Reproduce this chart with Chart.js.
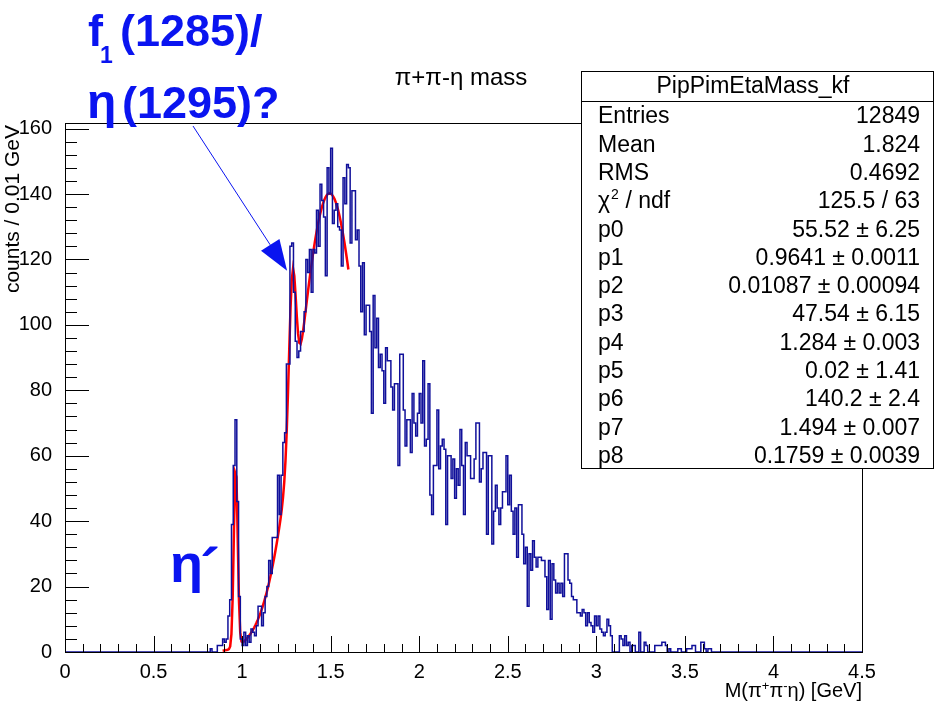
<!DOCTYPE html>
<html>
<head>
<meta charset="utf-8">
<title>pi+ pi- eta mass</title>
<script src="https://cdn.jsdelivr.net/npm/chart.js@4"></script>
<style>
  html, body { margin: 0; padding: 0; background: #fff; }
  #wrap { width: 935px; height: 701px; }
</style>
</head>
<body>
<div id="wrap"><canvas id="massChart" width="935" height="701"></canvas></div>
<script>
// -------------------------------
// Histogram data (0.01 GeV bins) -
// -------------------------------
const binWidth = 0.01;
const nBins = 450;
const firstBin = 80; // counts[0] is the 0.80-0.81 GeV bin
const counts = [
  0, 0, 1, 0, 0, 0, 2, 2, 2, 4,
  3, 4, 11, 16, 39, 57, 71, 46, 17, 4,
  2, 6, 2, 5, 3, 7, 6, 5, 8, 14,
  14, 8, 12, 17, 20, 28, 24, 35, 35, 35,
  54, 42, 54, 64, 67, 88, 88, 124, 125, 110,
  95, 90, 92, 98, 98, 104, 120, 116, 123, 110,
  123, 122, 135, 124, 143, 138, 133, 115, 148, 140,
  154, 131, 135, 137, 130, 129, 118, 145, 137, 149,
  148, 125, 141, 141, 126, 129, 118, 104, 119, 97,
  106, 106, 98, 73, 109, 93, 102, 87, 91, 86,
  76, 93, 89, 89, 81, 74, 82, 82, 57, 91,
  91, 74, 63, 71, 71, 61, 79, 70, 66, 73,
  79, 70, 89, 63, 65, 82, 48, 42, 57, 57,
  74, 56, 63, 65, 62, 39, 60, 60, 53, 59,
  47, 56, 51, 68, 57, 42, 64, 60, 60, 53,
  53, 59, 70, 70, 52, 56, 61, 61, 36, 60,
  60, 33, 43, 51, 44, 39, 44, 49, 49, 60,
  45, 54, 43, 36, 44, 29, 45, 45, 36, 27,
  32, 14, 30, 25, 34, 29, 26, 29, 29, 28,
  28, 23, 13, 28, 10, 27, 22, 18, 21, 18,
  21, 17, 30, 30, 22, 21, 17, 16, 16, 12,
  12, 11, 13, 12, 8, 12, 9, 8, 6, 11,
  8, 11, 7, 6, 5, 6, 10, 8, 5, 0,
  0, 0, 0, 5, 4, 2, 5, 2, 3, 0,
  2, 2, 0, 0, 6, 0, 0, 3, 2, 0,
  0, 0, 0, 2, 2, 2, 2, 3, 3, 2,
  0, 1, 0, 0, 0, 0, 1, 1, 0, 0,
  0, 1, 1, 1, 2, 2, 0, 0, 0, 3,
  3, 1, 0, 1, 1, 0
];

// fit: three gaussians, p0..p8 as printed in the stats box
const fitParams = [55.52, 0.9641, 0.01087, 47.54, 1.284, 0.02, 140.2, 1.494, 0.1759];
const fitRange = [0.89, 1.60];
const fitNpx = 100;

// axes
const xMin = 0, xMax = 4.5, xStep = 0.5, xMinorPerMajor = 5;
const yMin = 0, yMax = 161.7, yStep = 20, yMinorPerMajor = 5;

// stats box
const statTitle = "PipPimEtaMass_kf";
const statLabels = ["Entries", "Mean", "RMS", "chi2", "p0", "p1", "p2", "p3", "p4", "p5", "p6", "p7", "p8"];
const statValues = ["12849", "1.824", "0.4692", "125.5 / 63",
  "55.52 \u00b1 6.25", "0.9641 \u00b1 0.0011", "0.01087 \u00b1 0.00094",
  "47.54 \u00b1 6.15", "1.284 \u00b1 0.003", "0.02 \u00b1 1.41",
  "140.2 \u00b1 2.4", "1.494 \u00b1 0.007", "0.1759 \u00b1 0.0039"];

const FONT = "'Liberation Sans', Arial, Helvetica, sans-serif";
const HIST_COLOR = "#10109a";
const NOTE_COLOR = "#0a14f0";

// -------------------------------
// Build datasets ----------------
// -------------------------------
const histPoints = [];
for (let k = 0; k < nBins; k++) {
  const i = k - firstBin;
  const c = i >= 0 && i < counts.length ? counts[i] : 0;
  histPoints.push({ x: k * binWidth, y: c });
}
histPoints.push({ x: nBins * binWidth, y: 0 });

function gaus(m, a, mu, s) {
  const t = (m - mu) / s;
  return a * Math.exp(-0.5 * t * t);
}
function fitFunc(m) {
  const p = fitParams;
  return gaus(m, p[0], p[1], p[2]) + gaus(m, p[3], p[4], p[5]) + gaus(m, p[6], p[7], p[8]);
}
const fitPoints = [];
for (let i = 0; i <= fitNpx; i++) {
  const m = fitRange[0] + (fitRange[1] - fitRange[0]) * i / fitNpx;
  fitPoints.push({ x: m, y: fitFunc(m) });
}

// -------------------------------
// Drawing helpers ---------------
// -------------------------------
function drawText(ctx, str, x, y, size, opts = {}) {
  ctx.save();
  ctx.font = (opts.bold ? "bold " : "") + size + "px " + FONT;
  ctx.fillStyle = opts.color || "#000";
  ctx.textAlign = opts.align || "left";
  ctx.textBaseline = opts.baseline || "alphabetic";
  ctx.fillText(str, x, y);
  const w = ctx.measureText(str).width;
  ctx.restore();
  return w;
}
function textWidth(ctx, str, size, bold) {
  ctx.save();
  ctx.font = (bold ? "bold " : "") + size + "px " + FONT;
  const w = ctx.measureText(str).width;
  ctx.restore();
  return w;
}

const framePlugin = {
  id: "rootFrame",
  afterDatasetsDraw(chart) {
    const ctx = chart.ctx;
    const xs = chart.scales.x, ys = chart.scales.y;
    const { left, right, top, bottom } = chart.chartArea;
    ctx.save();
    ctx.strokeStyle = "#000";
    ctx.lineWidth = 1;
    ctx.strokeRect(Math.round(left) + 0.5, Math.round(top) + 0.5,
      Math.round(right - left), Math.round(bottom - top));

    // x ticks, pointing into the frame
    ctx.beginPath();
    const xMinor = xStep / xMinorPerMajor;
    for (let i = 0; i * xMinor <= xMax + 1e-9; i++) {
      const px = Math.round(xs.getPixelForValue(i * xMinor)) + 0.5;
      const len = i % xMinorPerMajor === 0 ? 16 : 8;
      ctx.moveTo(px, bottom);
      ctx.lineTo(px, bottom - len);
    }
    // y ticks
    const yMinor = yStep / yMinorPerMajor;
    for (let i = 0; i * yMinor <= yMax; i++) {
      const py = Math.round(ys.getPixelForValue(i * yMinor)) + 0.5;
      const len = i % yMinorPerMajor === 0 ? 24 : 12;
      ctx.moveTo(left, py);
      ctx.lineTo(left + len, py);
    }
    ctx.stroke();
    ctx.restore();
  },
  afterDraw(chart) {
    const ctx = chart.ctx;
    const xs = chart.scales.x, ys = chart.scales.y;
    const { right } = chart.chartArea;

    // title
    drawText(ctx, "\u03c0+\u03c0-\u03b7 mass", 461, 85, 24, { align: "center" });

    // y axis title, right-aligned at the top
    ctx.save();
    ctx.translate(19, 125);
    ctx.rotate(-Math.PI / 2);
    drawText(ctx, "counts / 0.01 GeV", 0, 0, 21, { align: "right" });
    ctx.restore();

    // x axis title with superscripts
    const tSize = 20, sSize = 13;
    const parts = [["M(\u03c0", false], ["+", true], ["\u03c0", false], ["-", true], ["\u03b7) [GeV]", false]];
    let total = 0;
    parts.forEach(([s, sup]) => { total += textWidth(ctx, s, sup ? sSize : tSize); });
    let tx = right - total;
    parts.forEach(([s, sup]) => {
      tx += drawText(ctx, s, tx, sup ? 690 : 697, sup ? sSize : tSize);
    });

    // stats box
    const bx = 581, by = 71, bw = 352, bh = 397;
    ctx.save();
    ctx.fillStyle = "#fff";
    ctx.fillRect(bx, by, bw, bh);
    ctx.strokeStyle = "#000";
    ctx.lineWidth = 1;
    ctx.strokeRect(bx + 0.5, by + 0.5, bw, bh);
    ctx.beginPath();
    ctx.moveTo(bx, by + 30.5);
    ctx.lineTo(bx + bw, by + 30.5);
    ctx.stroke();
    ctx.restore();
    drawText(ctx, statTitle, bx + bw / 2 - 4, by + 16, 23, { align: "center", baseline: "middle" });
    const rowH = 28.3;
    statLabels.forEach((lab, i) => {
      const y = 117 + i * rowH;
      if (lab === "chi2") {
        const w = drawText(ctx, "\u03c7", 598, y, 23, { baseline: "middle" });
        drawText(ctx, "2", 598 + w + 1, y - 7, 14, { baseline: "middle" });
        drawText(ctx, " / ndf", 598 + w + 9, y, 23, { baseline: "middle" });
      } else {
        drawText(ctx, lab, 598, y, 23, { baseline: "middle" });
      }
      drawText(ctx, statValues[i], 920, y, 23, { align: "right", baseline: "middle" });
    });

    // annotations
    const big = 45;
    let ax = 88;
    ax += drawText(ctx, "f", ax, 46, big, { bold: true, color: NOTE_COLOR });
    drawText(ctx, "1", ax - 3, 63, 23, { bold: true, color: NOTE_COLOR });
    drawText(ctx, "(1285)/", 120, 46, big, { bold: true, color: NOTE_COLOR });
    drawText(ctx, "\u03b7", 87, 118, big + 3, { bold: true, color: NOTE_COLOR });
    drawText(ctx, "(1295)?", 122, 118, big, { bold: true, color: NOTE_COLOR });
    drawText(ctx, "\u03b7", 170, 582, 54, { bold: true, color: NOTE_COLOR });
    drawText(ctx, "\u00b4", 200, 590, 60, { bold: true, color: NOTE_COLOR });

    // arrow to the f1 peak
    const tipX = xs.getPixelForValue(1.254), tipY = ys.getPixelForValue(116.5);
    const tailX = 193, tailY = 126;
    const dx = tipX - tailX, dy = tipY - tailY;
    const len = Math.hypot(dx, dy);
    const ux = dx / len, uy = dy / len;
    const headL = 31, headW = 11;
    const bxh = tipX - ux * headL, byh = tipY - uy * headL;
    ctx.save();
    ctx.strokeStyle = NOTE_COLOR;
    ctx.fillStyle = NOTE_COLOR;
    ctx.lineWidth = 1;
    ctx.beginPath();
    ctx.moveTo(tailX, tailY);
    ctx.lineTo(bxh, byh);
    ctx.stroke();
    ctx.beginPath();
    ctx.moveTo(tipX, tipY);
    ctx.lineTo(bxh - uy * headW, byh + ux * headW);
    ctx.lineTo(bxh + uy * headW, byh - ux * headW);
    ctx.closePath();
    ctx.fill();
    ctx.restore();
  }
};

// -------------------------------
// Chart -------------------------
// -------------------------------
const ctx = document.getElementById("massChart").getContext("2d");
const massChart = new Chart(ctx, {
  type: "line",
  data: {
    datasets: [
      {
        label: "PipPimEtaMass_kf",
        data: histPoints,
        borderColor: HIST_COLOR,
        borderWidth: 1.5,
        stepped: true,
        pointRadius: 0,
        fill: false,
        tension: 0,
      },
      {
        label: "fit",
        data: fitPoints,
        borderColor: "#ff0000",
        borderWidth: 2.5,
        pointRadius: 0,
        fill: false,
        tension: 0,
      },
    ],
  },
  options: {
    responsive: false,
    animation: false,
    events: [],
    layout: { padding: { top: 123, right: 73, left: 0, bottom: 0 } },
    plugins: { legend: { display: false }, tooltip: { enabled: false } },
    scales: {
      x: {
        type: "linear",
        min: xMin,
        max: xMax,
        grid: { display: false },
        border: { display: false },
        afterFit(scale) { scale.height = 49; },
        ticks: {
          stepSize: xStep,
          autoSkip: false,
          maxRotation: 0,
          padding: 0,
          color: "#000",
          font: { family: FONT, size: 20 },
          callback: (v) => String(+v.toFixed(1)),
        },
      },
      y: {
        type: "linear",
        min: yMin,
        max: yMax,
        grid: { display: false },
        border: { display: false },
        afterFit(scale) { scale.width = 65; },
        ticks: {
          stepSize: yStep,
          includeBounds: false,
          padding: 5,
          color: "#000",
          font: { family: FONT, size: 20 },
        },
      },
    },
  },
  plugins: [framePlugin],
});
</script>
</body>
</html>
